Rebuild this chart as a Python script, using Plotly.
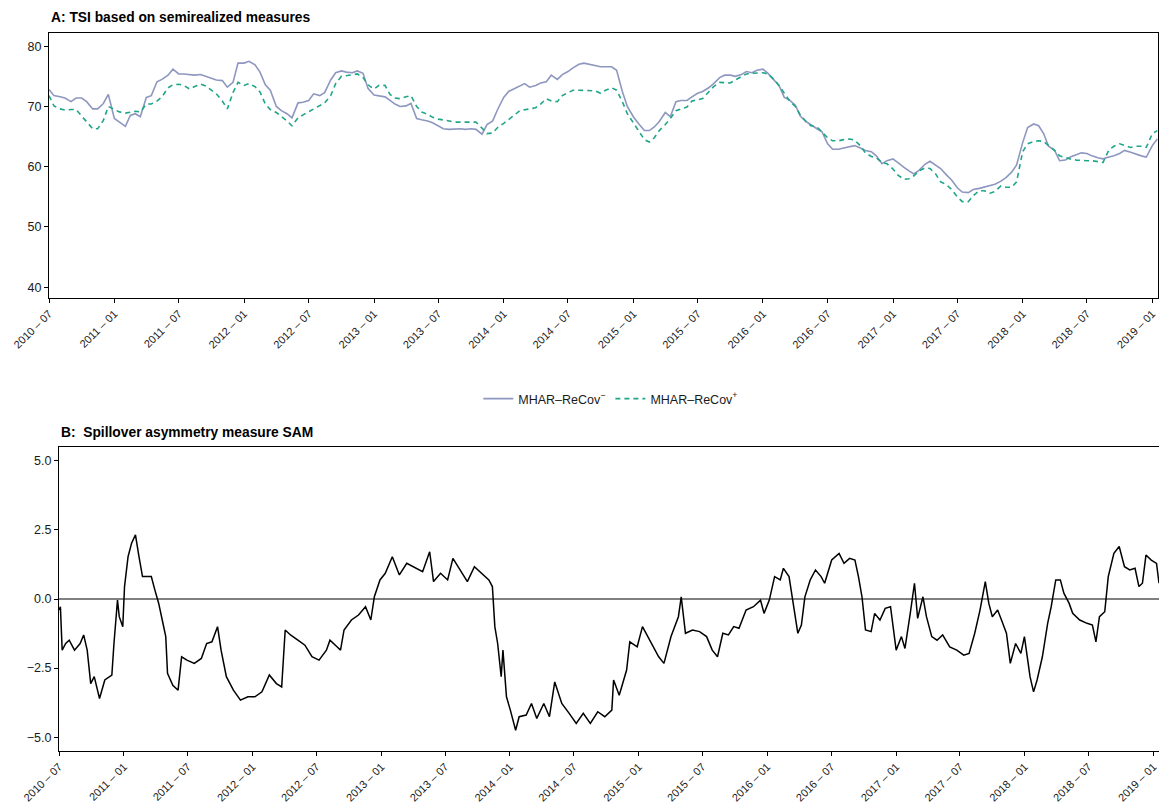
import pandas as pd
import plotly.graph_objects as go

# semi-monthly observation dates (1st and 15th of each month) for the TSI panel
dates = pd.date_range("2010-07-01", "2019-01-15", freq="SMS")

tsi_minus = [
    72.8, 71.8, 71.6, 71.4, 70.8, 71.4, 71.4, 70.8, 69.6, 69.6, 70.5, 72.0,
    68.0, 67.4, 66.7, 68.5, 68.8, 68.3, 71.5, 71.8, 74.1, 74.5, 75.2, 76.2, 75.4, 75.4, 75.3, 75.2, 75.3, 75.0, 74.7, 74.4, 74.3, 73.2, 74.0, 77.2,
    77.2, 77.5, 76.9, 75.7, 73.6, 72.7, 70.0, 69.3, 68.8, 68.1, 70.6, 70.7, 71.0, 72.1, 71.8, 72.3, 74.4, 75.6, 75.9, 75.7, 75.6, 75.9, 75.5, 73.0,
    71.9, 71.8, 71.6, 71.0, 70.4, 70.0, 70.1, 70.5, 68.0, 67.8, 67.6, 67.3, 66.8, 66.3, 66.2, 66.3, 66.3, 66.2, 66.3, 66.2, 65.4, 67.0, 67.6, 69.5,
    71.5, 72.5, 73.0, 73.5, 73.8, 73.2, 73.5, 73.9, 74.1, 75.2, 74.5, 75.3, 75.8, 76.4, 77.0, 77.2, 77.0, 76.8, 76.6, 76.6, 76.6, 76.0, 72.5, 70.0,
    68.3, 67.2, 66.0, 66.0, 66.6, 67.5, 69.0, 68.3, 70.8, 71.0, 71.0, 71.6, 72.2, 72.5, 73.1, 73.8, 74.8, 75.2, 75.2, 75.0, 75.3, 75.8, 75.6, 76.0,
    76.2, 75.5, 74.5, 73.5, 71.5, 71.1, 70.2, 68.4, 67.5, 66.9, 66.3, 65.8, 63.8, 62.9, 62.9, 63.1, 63.3, 63.5, 63.1, 62.7, 62.5, 61.8, 60.5, 61.0,
    61.3, 60.6, 59.9, 59.3, 58.8, 59.4, 60.4, 60.9, 60.2, 59.7, 58.6, 57.8, 56.5, 55.8, 55.7, 56.2, 56.4, 56.6, 56.8, 57.1, 57.6, 58.2, 59.1, 60.3,
    64.0, 66.5, 67.1, 66.8, 65.5, 63.4, 62.7, 61.0, 61.1, 61.6, 62.0, 62.3, 62.2, 61.8, 61.5, 61.3, 61.6, 61.8, 62.2, 62.7, 62.4, 62.1, 61.8, 61.6,
    63.5, 64.6,
]

tsi_plus = [
    71.8, 70.1, 69.6, 69.4, 69.5, 69.5, 68.4, 67.5, 66.3, 66.3, 67.7, 70.0,
    69.5, 69.1, 68.9, 69.1, 69.2, 69.1, 70.4, 70.4, 70.9, 71.6, 73.1, 73.6, 73.7, 73.5, 72.9, 73.3, 73.7, 73.4, 72.7, 72.1, 70.9, 69.6, 72.3, 74.0,
    73.5, 73.8, 73.3, 72.4, 70.4, 69.5, 69.0, 68.4, 67.6, 66.8, 68.1, 68.6, 69.1, 69.6, 70.2, 70.6, 71.8, 73.8, 75.0, 75.1, 75.3, 75.4, 74.8, 73.6,
    72.9, 73.5, 73.5, 72.0, 71.4, 71.3, 71.6, 71.8, 70.0, 69.1, 68.7, 68.2, 67.9, 67.8, 67.6, 67.4, 67.4, 67.4, 67.4, 67.4, 66.4, 65.5, 65.6, 66.5,
    67.2, 67.8, 68.6, 69.3, 69.4, 69.6, 69.8, 70.4, 71.3, 70.9, 70.8, 71.8, 72.3, 72.7, 72.7, 72.7, 72.7, 72.6, 72.2, 72.7, 73.1, 72.7, 70.8, 68.8,
    67.3, 66.0, 64.5, 64.1, 64.8, 66.0, 67.0, 68.0, 69.3, 69.6, 69.9, 70.9, 71.1, 71.3, 72.4, 73.3, 74.0, 73.9, 73.9, 74.4, 75.0, 75.4, 75.5, 75.6,
    75.6, 75.4, 74.5, 73.5, 72.3, 71.0, 70.0, 68.6, 67.5, 66.8, 66.6, 65.8, 64.8, 64.3, 64.3, 64.5, 64.6, 64.4, 63.5, 62.3, 61.7, 61.5, 60.7, 60.5,
    59.6, 58.6, 57.9, 58.0, 58.5, 59.3, 59.8, 59.7, 58.8, 57.5, 57.0, 56.2, 55.0, 54.2, 54.2, 55.2, 56.0, 56.0, 55.6, 55.9, 56.8, 56.6, 56.6, 57.5,
    62.5, 63.8, 64.2, 64.3, 64.2, 63.5, 62.7, 61.8, 61.5, 61.3, 61.1, 61.0, 61.0, 61.0, 60.9, 60.7, 62.8, 63.4, 63.8, 63.5, 63.2, 63.4, 63.4, 63.2,
    65.5, 66.0,
]

# SAM readings at the dates where they were read
sam_dates = [
    "2010-07-01", "2010-07-05", "2010-07-10", "2010-07-20", "2010-07-30", "2010-08-14", "2010-08-30", "2010-09-09",
    "2010-09-19", "2010-09-29", "2010-10-09", "2010-10-24", "2010-11-08", "2010-11-28", "2010-12-04", "2010-12-14",
    "2010-12-19", "2010-12-29", "2011-01-03", "2011-01-13", "2011-01-23", "2011-02-03", "2011-02-13", "2011-02-23",
    "2011-03-10", "2011-03-20", "2011-03-30", "2011-04-10", "2011-04-20", "2011-04-30", "2011-05-05", "2011-05-20",
    "2011-06-04", "2011-06-14", "2011-06-29", "2011-07-20", "2011-08-09", "2011-08-24", "2011-09-08", "2011-09-24",
    "2011-10-04", "2011-10-19", "2011-11-08", "2011-11-28", "2011-12-19", "2012-01-08", "2012-01-28", "2012-02-18",
    "2012-03-09", "2012-03-24", "2012-04-03", "2012-04-18", "2012-05-09", "2012-05-29", "2012-06-18", "2012-07-08",
    "2012-07-29", "2012-08-08", "2012-08-28", "2012-09-07", "2012-09-17", "2012-10-08", "2012-10-28", "2012-11-17",
    "2012-12-02", "2012-12-12", "2012-12-28", "2013-01-12", "2013-02-01", "2013-02-21", "2013-03-14", "2013-04-03",
    "2013-04-28", "2013-05-18", "2013-05-29", "2013-06-18", "2013-07-08", "2013-07-23", "2013-08-13", "2013-09-02",
    "2013-09-22", "2013-10-12", "2013-11-02", "2013-11-12", "2013-11-19", "2013-11-27", "2013-12-07", "2013-12-12",
    "2013-12-22", "2014-01-02", "2014-01-17", "2014-01-27", "2014-02-16", "2014-03-03", "2014-03-18", "2014-04-07",
    "2014-04-23", "2014-05-08", "2014-05-28", "2014-06-18", "2014-07-08", "2014-07-28", "2014-08-17", "2014-09-07",
    "2014-09-27", "2014-10-17", "2014-10-22", "2014-11-07", "2014-11-28", "2014-12-07", "2014-12-28", "2015-01-12",
    "2015-02-07", "2015-02-27", "2015-03-14", "2015-04-03", "2015-04-24", "2015-05-02", "2015-05-14", "2015-06-03",
    "2015-06-23", "2015-07-13", "2015-07-29", "2015-08-13", "2015-08-28", "2015-09-13", "2015-09-28", "2015-10-13",
    "2015-11-02", "2015-11-23", "2015-12-13", "2015-12-23", "2016-01-07", "2016-01-22", "2016-02-07", "2016-02-16",
    "2016-03-03", "2016-03-13", "2016-03-28", "2016-04-07", "2016-04-17", "2016-05-02", "2016-05-17", "2016-06-02",
    "2016-06-12", "2016-07-02", "2016-07-23", "2016-08-06", "2016-08-22", "2016-09-06", "2016-09-16", "2016-09-26",
    "2016-10-06", "2016-10-22", "2016-11-01", "2016-11-16", "2016-12-01", "2016-12-16", "2017-01-01", "2017-01-16",
    "2017-01-26", "2017-02-10", "2017-02-22", "2017-03-03", "2017-03-18", "2017-03-28", "2017-04-12", "2017-04-27",
    "2017-05-13", "2017-06-02", "2017-06-22", "2017-07-12", "2017-07-27", "2017-08-12", "2017-08-27", "2017-09-11",
    "2017-09-21", "2017-10-01", "2017-10-16", "2017-10-27", "2017-11-10", "2017-11-21", "2017-12-06", "2017-12-21",
    "2017-12-31", "2018-01-16", "2018-01-26", "2018-02-05", "2018-02-20", "2018-03-07", "2018-03-17", "2018-03-30",
    "2018-04-12", "2018-04-22", "2018-05-07", "2018-05-17", "2018-06-06", "2018-06-27", "2018-07-12", "2018-07-22",
    "2018-08-01", "2018-08-16", "2018-08-26", "2018-09-11", "2018-09-26", "2018-10-11", "2018-10-26", "2018-11-10",
    "2018-11-21", "2018-12-01", "2018-12-11", "2018-12-26", "2019-01-10", "2019-01-17",
]
sam = [
    -0.40, -0.28, -1.85, -1.61, -1.49, -1.85, -1.61, -1.30,
    -1.85, -3.06, -2.81, -3.60, -2.93, -2.75, -1.61, -0.04,
    -0.64, -1.00, 0.45, 1.53, 2.02, 2.32, 1.53, 0.81,
    0.81, 0.81, 0.33, -0.16, -0.76, -1.36, -2.69, -3.12,
    -3.30, -2.09, -2.21, -2.33, -2.15, -1.61, -1.55, -1.00,
    -1.85, -2.81, -3.30, -3.66, -3.54, -3.54, -3.36, -2.75,
    -3.06, -3.18, -1.12, -1.30, -1.49, -1.67, -2.09, -2.21,
    -1.85, -1.49, -1.73, -1.85, -1.12, -0.76, -0.58, -0.28,
    -0.76, 0.08, 0.69, 0.93, 1.53, 0.87, 1.29, 1.17,
    0.99, 1.71, 0.63, 0.93, 0.69, 1.47, 1.05, 0.63,
    1.17, 0.93, 0.69, 0.45, -1.00, -1.61, -2.81, -1.85,
    -3.54, -4.02, -4.75, -4.26, -4.20, -3.78, -4.32, -3.78,
    -4.26, -3.00, -3.78, -4.14, -4.50, -4.14, -4.50, -4.08,
    -4.26, -4.02, -2.93, -3.48, -2.57, -1.55, -1.73, -1.00,
    -1.61, -2.09, -2.33, -1.36, -0.64, 0.08, -1.24, -1.12,
    -1.18, -1.36, -1.85, -2.09, -1.24, -1.30, -1.00, -1.06,
    -0.40, -0.28, -0.04, -0.52, -0.04, 0.81, 0.69, 1.11,
    0.81, -0.04, -1.24, -0.94, 0.08, 0.69, 1.05, 0.81,
    0.57, 1.41, 1.65, 1.29, 1.47, 1.41, 0.81, 0.08,
    -1.12, -1.18, -0.52, -0.76, -0.34, -0.28, -1.85, -1.36,
    -1.79, -0.52, 0.57, -0.70, 0.08, -0.64, -1.36, -1.49,
    -1.30, -1.73, -1.85, -2.03, -1.97, -1.24, -0.40, 0.63,
    -0.16, -0.64, -0.40, -0.76, -1.24, -2.33, -1.61, -1.97,
    -1.36, -2.81, -3.36, -2.93, -2.09, -0.88, -0.28, 0.69,
    0.69, 0.21, -0.16, -0.52, -0.76, -0.88, -0.94, -1.55,
    -0.64, -0.46, 0.81, 1.65, 1.90, 1.17, 1.05, 1.11,
    0.45, 0.57, 1.59, 1.41, 1.29, 0.57,
]

top_ticks = [40, 50, 60, 70, 80]
bottom_ticks = [-5.0, -2.5, 0.0, 2.5, 5.0]
x_range = ["2010-07-01", "2019-01-17"]

FONT = "Liberation Sans, Arial, Helvetica, sans-serif"
W, H = 1159, 804

fig = go.Figure()
fig.add_trace(go.Scatter(x=dates, y=tsi_minus, mode="lines", name="MHAR–ReCov<sup>−</sup>",
                         line=dict(color="#8E97BF", width=1.6), xaxis="x", yaxis="y"))
fig.add_trace(go.Scatter(x=dates, y=tsi_plus, mode="lines", name="MHAR–ReCov<sup>+</sup>",
                         line=dict(color="#1FA688", width=1.6, dash="5px,4px"), xaxis="x", yaxis="y"))
fig.add_trace(go.Scatter(x=pd.to_datetime(sam_dates), y=sam, mode="lines", showlegend=False,
                         line=dict(color="black", width=1.5), xaxis="x2", yaxis="y2"))

axis_common = dict(showline=True, linecolor="black", linewidth=1, mirror=True,
                   ticks="outside", ticklen=4, tickwidth=1, tickcolor="black",
                   showgrid=False, zeroline=False, automargin=False,
                   tickfont=dict(family=FONT, size=12.5, color="#1a1a1a"))

xcommon = dict(axis_common, type="date", range=x_range, tick0="2010-07-01", dtick="M6",
               tickformat="%Y – %m", tickangle=-45, ticklabeloverflow="allow",
               tickfont=dict(family=FONT, size=11, color="#1a1a1a"))

fig.update_layout(
    width=W, height=H, margin=dict(l=0, r=0, t=0, b=0, autoexpand=False),
    paper_bgcolor="white", plot_bgcolor="white",
    font=dict(family=FONT, size=12, color="#1a1a1a"),
    xaxis=dict(xcommon, domain=[49 / W, 1158 / W], anchor="y"),
    yaxis=dict(axis_common, domain=[1 - 298 / H, 1 - 33 / H], range=[38.2, 82.2],
               tickvals=top_ticks, anchor="x"),
    xaxis2=dict(xcommon, domain=[59 / W, 1159 / W], anchor="y2"),
    yaxis2=dict(axis_common, domain=[1 - 751 / H, 1 - 447 / H], range=[-5.5, 5.5],
                tickvals=bottom_ticks, tickformat=".1f", anchor="x2"),
    legend=dict(orientation="h", x=0.527, xanchor="center", y=1 - 399 / H, yanchor="middle",
                font=dict(family=FONT, size=12.5, color="#1a1a1a"), bgcolor="rgba(0,0,0,0)",
                itemwidth=30),
    showlegend=True,
)

fig.add_shape(type="line", xref="x2 domain", yref="y2", x0=0, x1=1, y0=0, y1=0,
              line=dict(color="black", width=1.2))

fig.add_annotation(text="<b>A: TSI based on semirealized measures</b>", xref="paper", yref="paper",
                   x=49 / W, y=1 - 17 / H, xanchor="left", yanchor="middle", showarrow=False,
                   font=dict(family=FONT, size=13.8, color="black"))
fig.add_annotation(text="<b>B:\u00a0 Spillover asymmetry measure SAM</b>", xref="paper", yref="paper",
                   x=59 / W, y=1 - 432 / H, xanchor="left", yanchor="middle", showarrow=False,
                   font=dict(family=FONT, size=13.8, color="black"))

fig.write_html("out.html")
